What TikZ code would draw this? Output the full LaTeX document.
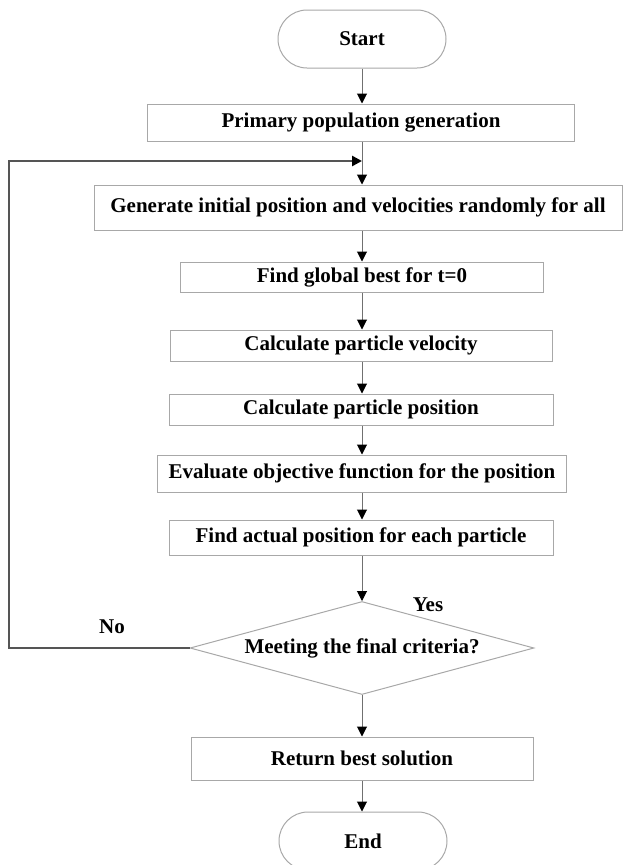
\documentclass[tikz,border=0pt]{standalone}
\usepackage{fontspec}
\setmainfont{Liberation Serif}
\usepackage{tikz}
\usetikzlibrary{arrows.meta,shapes.misc,shapes.geometric}
\definecolor{boxgray}{HTML}{A8A8A8}
\definecolor{linegray}{HTML}{707070}
\definecolor{loopgray}{HTML}{555555}
\tikzset{
  >={Triangle[length=10pt,width=10pt,color=black]},
  procbox/.style={draw=boxgray, line width=1pt, rectangle, inner sep=0pt,
    font=\fontsize{21}{25}\selectfont\bfseries},
  termbox/.style={procbox, rounded rectangle, minimum width=168pt, minimum height=58pt},
  decbox/.style={procbox, diamond, aspect=3.7, minimum width=344pt, minimum height=93pt},
  flowline/.style={->, draw=linegray, line width=1pt},
  loopline/.style={->, draw=loopgray, line width=2.5pt},
  lbl/.style={font=\fontsize{21}{25}\selectfont\bfseries, inner sep=0pt}
}
\begin{document}
\begin{tikzpicture}[x=1pt,y=-1pt]
\useasboundingbox (0,0) rectangle (623,865);
\coordinate (axis) at (362,0);
\coordinate (rail) at (9,0);
\coordinate (merge) at (362,161);
\node[termbox] (start) at (362,39) {Start};
\foreach \nm/\xc/\yc/\bw/\bh/\lbltext in {
    prim/361/122.5/427/37/Primary population generation,
    gen/358/207.5/528/45/Generate initial position and velocities randomly for all,
    glob/362/277/363/30/Find global best for t=0,
    vel/361/345.5/382/31/Calculate particle velocity,
    pos/361/409.5/384/31/Calculate particle position,
    eval/362/473.5/409/37/Evaluate objective function for the position,
    act/361/537.5/384/35/Find actual position for each particle,
    ret/362/758.5/342/43/Return best solution} {
  \node[procbox, minimum width=\bw pt, minimum height=\bh pt] (\nm) at (\xc,\yc) {\lbltext};
}
\node[decbox] (dec) at (362,648) {Meeting the final criteria?};
\node[termbox] (end) at (363,841) {End};
\foreach \a/\b in {start/prim, prim/gen, gen/glob, glob/vel, vel/pos, pos/eval,
    eval/act, act/dec, dec/ret, ret/end} {
  \draw[flowline] (\a.south -| axis) -- (\b.north -| axis);
}
\draw[loopline] (dec.west) -- (dec.west -| rail) |- (merge);
\node[lbl] (yes) at (428,605) {Yes};
\node[lbl] (no) at (112,627) {No};
\end{tikzpicture}
\end{document}
